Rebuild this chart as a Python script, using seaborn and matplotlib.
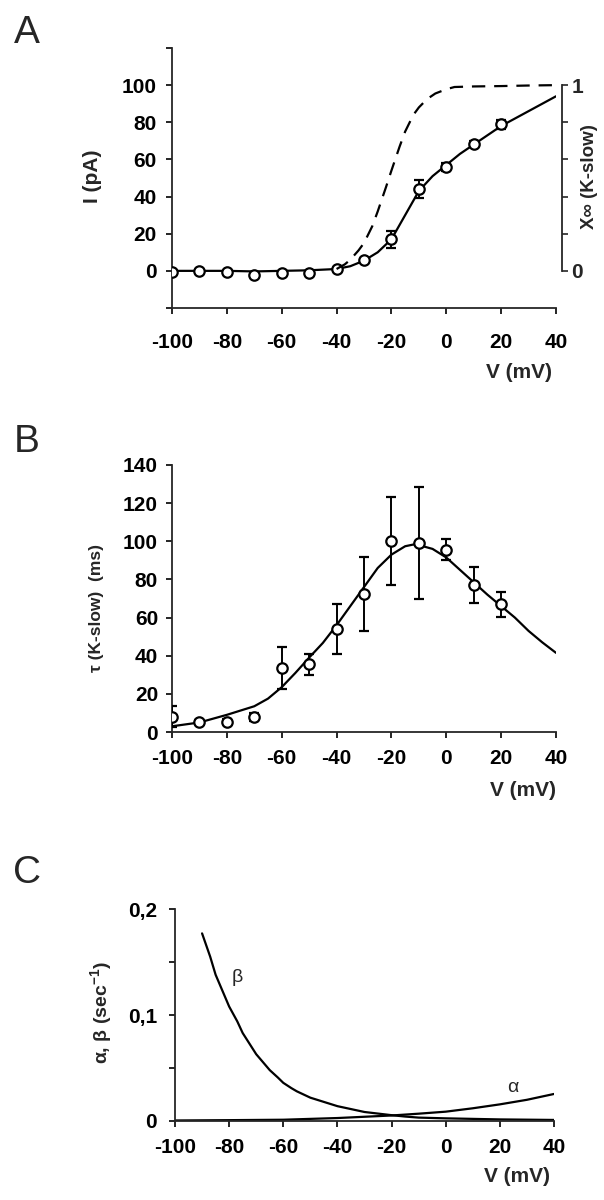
import numpy as np
import matplotlib
matplotlib.use("Agg")
import matplotlib.pyplot as plt
import seaborn as sns
import pandas as pd

# ---- Panel A: I-V data (pA) and steady-state activation ----
a_v = [-100, -90, -80, -70, -60, -50, -40, -30, -20, -10, 0, 10, 20]
a_i = [-0.5, 0, -0.5, -2, -1, -1, 1.2, 5.8, 17, 44, 56, 68.5, 79]
a_err = [0, 0, 0, 0, 0, 0, 0, 0, 4.5, 5, 2, 1.5, 2.5]

a_fit_v = [-100, -90, -80, -70, -60, -50, -40, -35, -30, -25, -20, -15, -10, -5, 0, 5, 10, 15, 20, 25, 30, 35, 40]
a_fit_i = [0, 0, 0, -0.3, 0, 0.3, 1, 2.5, 5.5, 10, 17, 30, 43, 51, 57, 63, 68, 73, 78, 82, 86, 90, 94]

a_xinf_v = [-40, -37, -35, -32, -30, -27, -25, -22, -20, -17, -15, -12, -10, -7, -4, 0, 3, 10, 20, 30, 40]
a_xinf = [0.01, 0.035, 0.06, 0.11, 0.15, 0.24, 0.32, 0.45, 0.54, 0.67, 0.75, 0.84, 0.88, 0.925, 0.955, 0.978, 0.99, 0.993, 0.995, 0.998, 1.0]

# ---- Panel B: time constant (ms) ----
b_v = [-100, -90, -80, -70, -60, -50, -40, -30, -20, -10, 0, 10, 20]
b_tau = [8, 5.2, 5.5, 8, 33.5, 35.5, 54, 72.5, 100, 99, 95.5, 77, 67]
b_err = [5.5, 1, 1.5, 2, 11, 5.5, 13, 19.5, 23, 29.5, 5.5, 9.5, 6.5]

b_fit_v = [-100, -90, -80, -70, -65, -60, -55, -50, -45, -40, -35, -30, -25, -20, -15, -12, -10, -5, 0, 5, 10, 15, 20, 25, 30, 35, 40]
b_fit_tau = [3, 5, 9, 13.5, 17.5, 23.5, 31, 39, 46.7, 56, 66, 76, 86, 93, 97.4, 98.3, 98, 96, 91.5, 85, 78.5, 72, 66, 60, 53, 47, 41.5]

# ---- Panel C: rate constants (1/s) ----
c_beta_v = [-90, -87, -85, -82, -80, -77, -75, -72, -70, -67, -65, -62, -60, -57, -55, -50, -45, -40, -30, -20, -15, -10, 0, 20, 40]
c_beta = [0.177, 0.155, 0.138, 0.12, 0.108, 0.094, 0.083, 0.071, 0.063, 0.054, 0.048, 0.041, 0.036, 0.031, 0.028, 0.022, 0.018, 0.014, 0.0085, 0.0055, 0.0042, 0.0032, 0.0025, 0.0015, 0.001]
c_alpha_v = [-100, -80, -60, -50, -40, -30, -20, -10, 0, 10, 20, 30, 40]
c_alpha = [0.0005, 0.0008, 0.0012, 0.002, 0.0028, 0.004, 0.0052, 0.0069, 0.0088, 0.012, 0.0157, 0.02, 0.0255]

sns.set_style("ticks")
plt.rcParams['font.family'] = ['Liberation Sans', 'DejaVu Sans']
plt.rcParams['mathtext.fontset'] = 'custom'
plt.rcParams['mathtext.rm'] = 'Liberation Sans:bold'
plt.rcParams['mathtext.it'] = 'Liberation Sans:bold:italic'
plt.rcParams['axes.linewidth'] = 1.3
plt.rcParams['axes.unicode_minus'] = False

W, H = 604, 1200
fig = plt.figure(figsize=(W / 100, H / 100), dpi=100)


def rect(x0, y0, x1, y1):
    return [x0 / W, 1 - y1 / H, (x1 - x0) / W, (y1 - y0) / H]


def px(x, y):
    return x / W, 1 - y / H


TICK_FS = 15
LAB_FS = 15


def style_ax(ax, xpad, ypad):
    for s in ['top', 'right']:
        ax.spines[s].set_visible(False)
    ax.tick_params(axis='both', direction='out', length=4, width=1.2, colors='black', labelsize=TICK_FS)
    ax.tick_params(axis='x', pad=xpad)
    ax.tick_params(axis='y', pad=ypad)
    ax.set_xlim(-100, 40)
    ax.set_xticks(range(-100, 41, 20))
    for lab in ax.get_xticklabels() + ax.get_yticklabels():
        lab.set_fontweight('bold')
    ax.set_xlabel('')
    ax.set_ylabel('')


line_kw = dict(color='black', linewidth=1.6)
mk_kw = dict(fmt='o', color='black', markerfacecolor='white', markeredgecolor='black',
             markersize=7.5, markeredgewidth=1.6, elinewidth=1.4, capsize=3.5, capthick=1.4)

# ---------------- A ----------------
axA = fig.add_axes(rect(172, 48, 556, 308))
sns.lineplot(x=a_fit_v, y=a_fit_i, ax=axA, **line_kw)
axA.errorbar(a_v, a_i, yerr=a_err, zorder=5, **mk_kw)
axA.set_ylim(-20, 120)
axA.set_yticks(range(-20, 121, 20))
axA.set_yticklabels(['' if t in (-20, 120) else str(t) for t in range(-20, 121, 20)])
style_ax(axA, 14, 7)

axA2 = axA.twinx()
sns.lineplot(x=a_xinf_v, y=a_xinf, ax=axA2, color='black', linewidth=1.6)
axA2.lines[-1].set_linestyle((0, (6, 4)))
axA2.set_ylim(-0.2, 1.2)
axA2.set_xlim(-100, 40)
for s in ['top', 'left', 'bottom']:
    axA2.spines[s].set_visible(False)
axA2.spines['right'].set_bounds(0, 1)
axA2.spines['right'].set_position(('outward', 4))
axA2.set_yticks(np.arange(0, 1.01, 0.2))
axA2.set_yticklabels(['0', '', '', '', '', '1'])
axA2.tick_params(axis='y', direction='out', length=4, width=1.2, labelsize=TICK_FS, pad=3)
for lab in axA2.get_yticklabels():
    lab.set_fontweight('bold')
axA2.set_ylabel('')

fig.text(*px(27, 33), 'A', fontsize=28, ha='center', va='center')
fig.text(*px(92, 176), 'I (pA)', fontsize=LAB_FS, fontweight='bold', rotation=90, ha='center', va='center')
fig.text(*px(590, 177), 'X\u221e (K-slow)', fontsize=13.5, fontweight='bold', rotation=90, ha='center', va='center')
fig.text(*px(552, 373), 'V (mV)', fontsize=LAB_FS, fontweight='bold', ha='right', va='center')

# ---------------- B ----------------
axB = fig.add_axes(rect(172, 465, 556, 732))
sns.lineplot(x=b_fit_v, y=b_fit_tau, ax=axB, **line_kw)
axB.errorbar(b_v, b_tau, yerr=b_err, zorder=5, **mk_kw)
axB.set_ylim(0, 140)
axB.set_yticks(range(0, 141, 20))
style_ax(axB, 8, 6)

fig.text(*px(27, 442), 'B', fontsize=28, ha='center', va='center')
fig.text(*px(96, 608), '\u03c4 (K-slow)  (ms)', fontsize=12.5, fontweight='bold', rotation=90, ha='center', va='center')
fig.text(*px(556, 790), 'V (mV)', fontsize=LAB_FS, fontweight='bold', ha='right', va='center')

# ---------------- C ----------------
axC = fig.add_axes(rect(175, 909, 554, 1121))
sns.lineplot(x=c_beta_v, y=c_beta, ax=axC, **line_kw)
sns.lineplot(x=c_alpha_v, y=c_alpha, ax=axC, **line_kw)
axC.set_ylim(0, 0.2)
axC.set_yticks([0, 0.05, 0.1, 0.15, 0.2])
axC.set_yticklabels(['0', '', '0,1', '', '0,2'])
style_ax(axC, 8, 9)

fig.text(*px(27, 873), 'C', fontsize=28, ha='center', va='center')
fig.text(*px(101, 1013), '\u03b1, \u03b2 (sec$^{-1}$)', fontsize=14, fontweight='bold', rotation=90, ha='center', va='center')
fig.text(*px(237, 978), '\u03b2', fontsize=14, ha='center', va='center')
fig.text(*px(513, 1087), '\u03b1', fontsize=14, ha='center', va='center')
fig.text(*px(550, 1177), 'V (mV)', fontsize=LAB_FS, fontweight='bold', ha='right', va='center')

fig.savefig('out.png', dpi=100)
